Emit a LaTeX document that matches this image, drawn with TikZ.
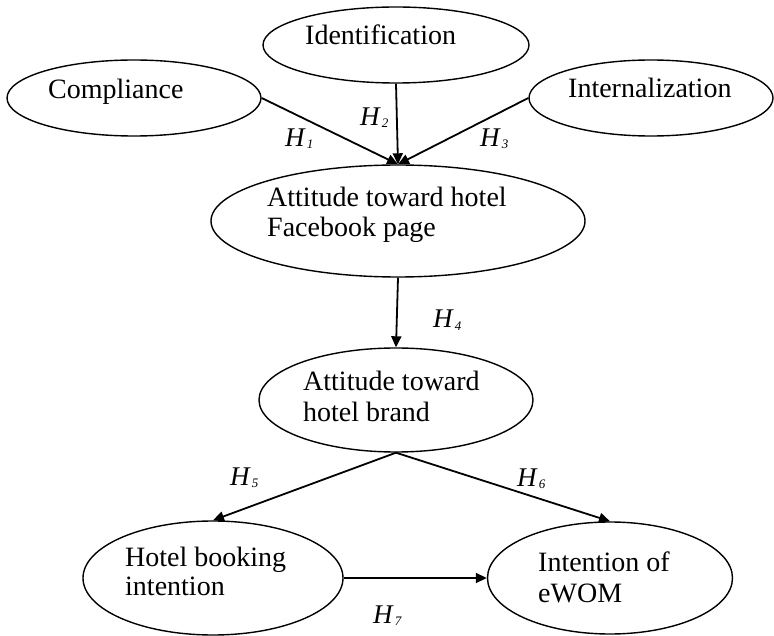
\documentclass[tikz,border=0pt]{standalone}
\usepackage{fontspec}
\setmainfont{Liberation Serif}
\usetikzlibrary{arrows.meta,shapes.geometric}
\newcommand{\hyplab}[1]{\textit{H}\kern1pt\raisebox{-2pt}{\fontsize{13}{13}\selectfont\itshape #1}}
\begin{document}
\begin{tikzpicture}[x=1pt,y=-1pt,
  ell/.style={draw, ellipse, line width=1.4pt, inner sep=0pt},
  txt/.style={anchor=base west, inner sep=0pt, font=\fontsize{28}{31}\selectfont},
  conn/.style={line width=1.8pt, -{Triangle[length=11pt,width=10pt]}},
  hlab/.style={anchor=base west, inner sep=0pt, font=\fontsize{27}{30}\selectfont}]
\useasboundingbox (0,0) rectangle (774,636);
% ellipses
\node[ell, minimum width=254pt, minimum height=76pt] (comp) at (134,98) {};
\node[ell, minimum width=266pt, minimum height=76pt] (ident) at (396,45) {};
\node[ell, minimum width=244pt, minimum height=76pt] (int) at (651,98) {};
\node[ell, minimum width=374pt, minimum height=112pt] (fb) at (398,221) {};
\node[ell, minimum width=274pt, minimum height=104pt] (brand) at (396,400) {};
\node[ell, minimum width=260pt, minimum height=114pt] (book) at (213,578) {};
\node[ell, minimum width=245pt, minimum height=112pt] (ewom) at (610,578) {};
% texts
\node[txt] (tcomp) at (48,99) {Compliance};
\node[txt] (tident) at (305,45) {Identification};
\node[txt] (tint) at (568,98) {Internalization};
\node[txt] (tfb1) at (267,207) {Attitude toward hotel};
\node[txt] (tfb2) at (267,237) {Facebook page};
\node[txt] (tbr1) at (303,390) {Attitude toward};
\node[txt] (tbr2) at (303,421) {hotel brand};
\node[txt] (tbk1) at (125,566) {Hotel booking};
\node[txt] (tbk2) at (125,595) {intention};
\node[txt] (tew1) at (538,571) {Intention of};
\node[txt] (tew2) at (538,602) {eWOM};
% connectors
\draw[conn] (comp.east) -- (fb.north);
\draw[conn] (ident.south) -- (fb.north);
\draw[conn] (int.west) -- (fb.north);
\draw[conn] (fb.south) -- (brand.north);
\draw[conn] (brand.south) -- (book.north);
\draw[conn] (brand.south) -- (ewom.north);
\draw[conn] (book.east) -- (ewom.west);
% labels
\node[hlab] (h1) at (285,147) {\hyplab{1}};
\node[hlab] (h2) at (360,126) {\hyplab{2}};
\node[hlab] (h3) at (480,147) {\hyplab{3}};
\node[hlab] (h4) at (433,328) {\hyplab{4}};
\node[hlab] (h5) at (230,485) {\hyplab{5}};
\node[hlab] (h6) at (517,486) {\hyplab{6}};
\node[hlab] (h7) at (373,623) {\hyplab{7}};
\end{tikzpicture}
\end{document}
